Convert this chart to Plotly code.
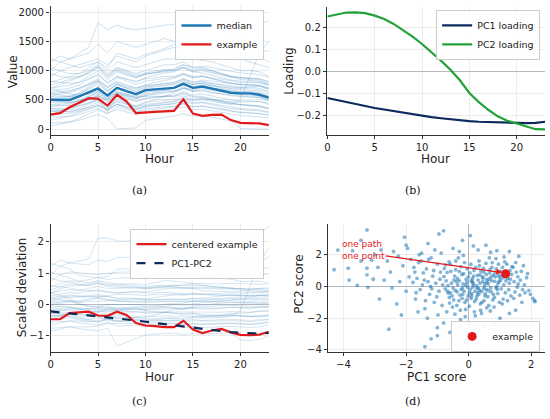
import plotly.graph_objects as go

hours = list(range(24))

# panel (a): hourly values
median_value = [502, 500, 498, 560, 630, 695, 576, 705, 649, 598, 666, 680,
                695, 705, 773, 705, 729, 695, 661, 621, 610, 610, 587, 536]
example_value = [247, 271, 373, 446, 525, 520, 401, 587, 475, 271, 288, 295,
                 303, 310, 508, 265, 225, 243, 248, 153, 107, 96, 96, 68]

background_paths = [
    [1000, 1150, 1200, 1300, 1400, 1820, 1700, 1780, 1720, 1700, 1720, 1750, 1780, 1790, 1950, 1850, 1800, 1750, 1700, 1650, 1700, 1750, 1800, 1850],
    [1150, 1250, 1200, 1250, 1300, 1450, 1300, 1500, 1450, 1400, 1450, 1500, 1550, 1500, 1600, 1550, 1500, 1450, 1400, 1350, 1300, 1250, 1300, 1350],
    [800, 850, 900, 950, 1050, 1150, 1000, 1150, 1100, 1050, 1100, 1150, 1200, 1200, 1250, 1200, 1180, 1150, 1100, 1050, 1000, 1000, 980, 900],
    [700, 720, 750, 800, 900, 1000, 850, 980, 920, 880, 950, 980, 1000, 1020, 1100, 1020, 1050, 1000, 950, 900, 880, 870, 860, 800],
    [600, 620, 640, 700, 780, 860, 720, 880, 820, 760, 820, 850, 870, 880, 950, 880, 900, 860, 820, 780, 760, 750, 740, 680],
    [550, 560, 560, 600, 680, 760, 640, 770, 700, 650, 720, 740, 760, 770, 840, 770, 790, 750, 720, 690, 670, 660, 650, 590],
    [450, 460, 450, 500, 560, 640, 520, 650, 590, 540, 600, 620, 640, 650, 720, 650, 670, 630, 600, 570, 550, 550, 540, 480],
    [400, 410, 400, 440, 500, 570, 460, 580, 520, 470, 530, 550, 570, 580, 640, 580, 600, 560, 530, 500, 480, 480, 470, 420],
    [350, 360, 360, 390, 440, 500, 400, 510, 450, 400, 460, 480, 500, 510, 570, 510, 530, 490, 460, 430, 410, 400, 390, 350],
    [300, 310, 300, 330, 370, 420, 340, 430, 380, 340, 390, 400, 420, 430, 480, 430, 450, 410, 380, 350, 330, 320, 310, 280],
    [200, 210, 220, 250, 300, 350, 270, 340, 290, 250, 300, 310, 330, 340, 380, 330, 340, 310, 280, 250, 230, 220, 210, 190],
    [100, 110, 120, 150, 200, 250, 180, 0, 10, 20, 150, 180, 200, 220, 260, 220, 230, 200, 170, 140, 10, 0, 0, 0],
    [250, 300, 350, 400, 450, 500, 300, 550, 450, 350, 400, 420, 450, 470, 520, 480, 500, 470, 440, 420, 500, 900, 1300, 1500],
    [900, 1000, 1050, 1100, 1150, 1200, 1100, 1250, 1200, 1150, 1250, 1300, 1350, 1400, 1450, 1400, 1380, 1350, 1300, 1250, 1200, 1150, 1100, 1050],
    [650, 680, 700, 750, 850, 950, 780, 900, 850, 800, 880, 920, 960, 980, 1050, 980, 1000, 960, 920, 880, 850, 840, 820, 760],
    [500, 520, 540, 600, 700, 800, 650, 780, 720, 680, 740, 760, 780, 790, 860, 800, 820, 780, 750, 720, 700, 690, 680, 620],
    [480, 470, 460, 480, 520, 560, 500, 600, 560, 520, 580, 620, 660, 700, 760, 720, 760, 740, 720, 700, 700, 720, 740, 700],
    [700, 650, 600, 580, 600, 650, 550, 620, 580, 540, 560, 560, 570, 560, 600, 550, 540, 500, 470, 440, 420, 400, 380, 340],
    [380, 400, 420, 480, 560, 620, 520, 640, 600, 560, 620, 660, 700, 720, 800, 760, 800, 780, 760, 740, 720, 720, 700, 640],
    [150, 180, 220, 280, 340, 400, 320, 420, 360, 300, 350, 370, 380, 390, 440, 380, 390, 360, 330, 300, 280, 270, 260, 230],
    [820, 800, 780, 800, 860, 920, 800, 900, 860, 820, 860, 880, 900, 900, 950, 900, 910, 880, 850, 820, 800, 800, 790, 740],
    [300, 320, 360, 420, 500, 580, 480, 600, 540, 480, 520, 540, 560, 560, 620, 560, 560, 520, 480, 450, 420, 410, 400, 360],
    [1050, 1000, 950, 950, 1000, 1100, 950, 1050, 1000, 950, 1000, 1050, 1100, 1100, 1150, 1050, 1050, 1000, 950, 900, 880, 860, 840, 780],
    [560, 600, 620, 680, 760, 840, 700, 820, 760, 700, 740, 760, 780, 800, 860, 800, 840, 820, 800, 780, 760, 760, 740, 680],
    [420, 430, 440, 480, 540, 600, 500, 620, 570, 520, 570, 590, 620, 640, 700, 660, 690, 660, 640, 610, 590, 580, 560, 500],
    [620, 640, 660, 700, 760, 820, 720, 800, 740, 700, 760, 800, 840, 870, 930, 880, 900, 860, 820, 790, 770, 760, 750, 700],
    [250, 260, 270, 300, 350, 400, 330, 420, 370, 330, 380, 400, 420, 440, 500, 450, 460, 430, 400, 370, 350, 340, 330, 290],
    [750, 800, 850, 900, 950, 1050, 900, 1050, 980, 920, 960, 1000, 1020, 1000, 1050, 980, 960, 920, 880, 840, 820, 820, 800, 760],
    [50, 80, 120, 180, 250, 330, 260, 380, 330, 280, 320, 340, 360, 380, 430, 380, 400, 370, 340, 310, 290, 280, 270, 240],
    [1200, 1150, 1100, 1050, 1100, 1150, 1050, 1300, 1250, 1200, 1280, 1320, 1380, 1450, 1500, 1480, 1450, 1400, 1350, 1300, 1280, 1250, 1230, 1150],
    [350, 340, 330, 350, 420, 500, 380, 480, 430, 380, 450, 500, 560, 620, 700, 680, 720, 700, 680, 660, 640, 640, 620, 560],
    [600, 580, 560, 560, 600, 660, 580, 700, 650, 600, 640, 650, 660, 650, 690, 640, 650, 620, 600, 580, 560, 550, 540, 500],
    [950, 900, 880, 900, 980, 1080, 920, 1020, 960, 900, 940, 960, 980, 1000, 1060, 1000, 1020, 980, 940, 900, 880, 870, 860, 820],
    [520, 540, 560, 620, 720, 820, 660, 760, 700, 640, 700, 720, 740, 760, 820, 760, 780, 740, 700, 660, 640, 630, 610, 560],
    [320, 300, 290, 320, 380, 460, 360, 470, 420, 380, 420, 440, 460, 480, 540, 500, 520, 500, 480, 470, 460, 470, 480, 440],
    [700, 760, 820, 880, 960, 1060, 880, 1000, 940, 880, 930, 960, 1000, 1030, 1100, 1060, 1080, 1050, 1010, 980, 960, 950, 930, 880],
]

# panel (b): loadings
pc1_loading = [-0.121, -0.131, -0.140, -0.149, -0.158, -0.167, -0.174, -0.182, -0.190, -0.196, -0.203, -0.209,
               -0.214, -0.219, -0.223, -0.227, -0.230, -0.232, -0.233, -0.234, -0.235, -0.236, -0.235, -0.230]
pc2_loading = [0.252, 0.262, 0.270, 0.271, 0.267, 0.256, 0.240, 0.218, 0.190, 0.160, 0.126, 0.090,
               0.050, 0.008, -0.040, -0.098, -0.140, -0.175, -0.205, -0.225, -0.238, -0.254, -0.264, -0.265]

# panel (c): scaled deviations
dev_scale = 530
centered_example = [-0.47, -0.47, -0.27, -0.24, -0.23, -0.35, -0.36, -0.23, -0.33, -0.59, -0.67, -0.69,
                    -0.72, -0.72, -0.52, -0.80, -0.91, -0.83, -0.78, -0.89, -0.97, -0.98, -0.96, -0.87]
pc12_path = [-0.22, -0.25, -0.28, -0.31, -0.34, -0.37, -0.40, -0.43, -0.47, -0.51, -0.55, -0.59,
             -0.63, -0.67, -0.71, -0.75, -0.78, -0.82, -0.85, -0.88, -0.90, -0.92, -0.93, -0.91]

# panel (d): scores (PC1, PC2)
score_points = [
    (-0.72, 0.35), (-0.65, -0.42), (-0.78, 1.12), (-0.61, -1.05), (-0.69, 0.88), (-0.75, -0.15), (-0.63, 1.55),
    (-0.7, -1.6), (-0.66, 0.05), (-0.79, 0.62), (-0.62, -0.7), (-0.74, 1.35), (-0.68, -0.3),
    (-0.55, 0.2), (-0.48, -0.85), (-0.42, 1.05), (-0.58, -0.4), (-0.45, 0.65), (-0.52, -1.3), (-0.41, 1.6),
    (-0.57, 0.95), (-0.5, -0.1), (-0.44, -1.75), (-0.59, 1.4), (-0.47, 0.4), (-0.53, -0.6), (-0.43, -0.25),
    (-0.35, 0.1), (-0.28, -0.55), (-0.22, 0.75), (-0.38, -1.2), (-0.25, 1.25), (-0.31, -0.9), (-0.36, 0.5),
    (-0.24, -0.2), (-0.33, 1.8), (-0.27, -1.5), (-0.39, 0.3), (-0.21, -0.75), (-0.3, 0.95), (-0.26, -2.1), (-0.37, -0.35),
    (-0.15, -0.3), (-0.08, 0.45), (-0.12, -1.0), (-0.05, 1.1), (-0.18, 0.15), (-0.02, -0.6), (-0.1, -1.45),
    (-0.16, 0.8), (-0.04, -0.05), (-0.13, 1.5), (-0.07, -0.85), (-0.19, -0.5), (-0.01, 0.6), (-0.11, -1.9),
    (-0.06, 0.25), (-0.17, 1.95),
    (0.05, -0.2), (0.12, 0.5), (0.08, -0.75), (0.17, 1.0), (0.02, -1.25), (0.15, 0.1), (0.1, -0.45), (0.18, -1.6),
    (0.04, 0.85), (0.13, -0.05), (0.07, 1.4), (0.19, -0.95), (0.11, 0.3), (0.03, -2.3), (0.16, 0.65), (0.09, -0.6),
    (0.25, 0.05), (0.32, -0.5), (0.28, 0.7), (0.37, -1.1), (0.22, 1.2), (0.35, -0.25), (0.3, 0.4), (0.38, -1.5),
    (0.24, -0.8), (0.33, 1.6), (0.27, -0.1), (0.39, 0.95), (0.21, -1.85), (0.36, 0.2), (0.29, -0.4), (0.34, 1.3),
    (0.45, 0.3), (0.52, -0.6), (0.48, 0.9), (0.57, -0.2), (0.42, -1.0), (0.55, 1.45), (0.5, 0.0), (0.58, -1.35),
    (0.44, 0.6), (0.53, -0.45), (0.47, 1.15), (0.59, 0.25), (0.41, -1.7), (0.56, 0.75), (0.49, -0.9),
    (0.65, 0.45), (0.72, -0.35), (0.68, 1.05), (0.77, -0.85), (0.62, 0.15), (0.75, 1.5), (0.7, -0.1), (0.78, 0.7),
    (0.64, -1.2), (0.73, 0.35), (0.66, 1.8), (0.79, -0.5), (0.61, -0.65), (0.74, 1.2), (0.69, -1.55),
    (0.85, 0.6), (0.92, -0.2), (0.88, 1.1), (0.97, 0.3), (0.82, -0.7), (0.95, 1.4), (0.9, 0.0), (0.98, -1.0),
    (0.84, 0.85), (0.93, -0.45), (0.87, 1.75), (0.99, 0.55), (0.81, -1.3), (0.94, 0.2),
    (1.05, 0.7), (1.12, 0.1), (1.08, 1.2), (1.17, -0.4), (1.02, 0.4), (1.15, 1.55), (1.1, -0.8), (1.18, 0.9),
    (1.04, -0.15), (1.13, 1.85), (1.07, -1.1), (1.19, 0.35),
    (1.25, 0.5), (1.32, 1.0), (1.28, -0.2), (1.37, 0.75), (1.22, 1.4), (1.35, -0.6), (1.3, 0.2), (1.38, 1.25),
    (1.24, -0.9), (1.33, 0.45),
    (1.45, 0.3), (1.52, 0.9), (1.48, -0.35), (1.57, 0.6), (1.42, 1.2), (1.55, -0.05), (1.5, 1.5), (1.58, 0.15), (1.44, -0.75),
    (1.65, 0.4), (1.72, -0.2), (1.68, 0.95), (1.78, 0.1), (1.63, -0.55), (1.85, 0.55), (1.8, -0.4), (1.92, -0.25),
    (1.97, -0.5), (2.05, -0.75), (2.1, -0.9), (2.12, -0.95), (1.75, 1.3), (1.88, 0.8), (1.7, -1.0),
    (-0.9, 0.9), (-0.95, -0.3), (-1.0, 1.4), (-1.05, 0.2), (-1.1, -1.0), (-1.15, 0.65), (-1.2, 1.8), (-1.25, -0.5),
    (-1.3, 0.3), (-1.35, 1.1), (-1.4, -1.4), (-1.45, 0.85), (-1.5, 2.1), (-1.55, -0.2), (-1.6, 1.5), (-1.65, 0.5),
    (-1.7, -0.8), (-1.75, 1.2), (-0.85, -1.2), (-0.92, 0.45), (-1.02, -0.65), (-1.12, 1.0), (-1.22, 0.0), (-1.32, -2.0),
    (-1.42, 0.4), (-1.52, 1.6), (-1.62, -1.6), (-1.72, 0.9), (-0.88, 2.1), (-0.98, -1.8), (-1.08, 2.3), (-1.18, -0.15),
    (-1.28, 1.7), (-1.38, -0.9), (-1.48, 0.1), (-1.58, 2.0), (-1.68, -0.4), (-1.78, 0.25), (-0.83, 0.1), (-1.0, -2.6),
    (-1.85, 1.7), (-1.9, 0.6), (-1.95, 2.4), (-2.0, -0.3), (-2.05, 3.1), (-2.1, 1.3), (-2.2, 0.3), (-2.25, 1.9),
    (-2.3, -1.1), (-2.4, 2.2), (-2.5, 0.9), (-2.55, -2.7), (-2.6, 1.6), (-2.7, 0.4), (-2.8, 2.3), (-2.85, -0.8),
    (-2.9, 1.2), (-3.0, 2.0), (-3.05, 0.45), (-3.25, 3.56), (-3.44, 2.9), (-4.18, 2.29), (-3.71, 2.25), (-3.85, 1.15),
    (-3.82, 0.4), (-3.56, 0.06), (-3.44, 1.6), (-3.25, 1.15), (-3.25, 0.73), (-3.22, -0.06), (-2.0, 2.6), (-4.3, 1.05),
    (-3.1, 1.65), (-2.15, -1.8), (-2.45, -0.1),
    (-0.8, 3.5), (-0.95, 3.3), (-0.2, 2.9), (0.15, 2.55), (0.3, 2.3), (0.55, 2.6), (0.9, 2.25), (-0.5, 2.4),
    (-0.3, 2.2), (0.7, 2.15), (1.3, 2.2), (1.6, 1.9), (-1.3, 2.7), (0.05, 3.2),
    (-0.1, -3.5), (-0.6, -2.9), (0.2, -2.7), (-1.0, -3.1), (0.5, -2.5), (0.8, -2.3), (-0.3, -2.6), (1.0, -2.0),
    (1.3, -1.7), (-1.4, -3.8), (0.0, -3.15), (-0.8, -2.3), (1.5, -1.5), (-1.2, -3.3),
    (0.14, 0.22), (0.31, -0.12), (0.46, 0.52), (0.63, -0.28), (0.26, -0.62), (0.52, 0.18), (-0.09, 0.08), (0.08, 0.35),
    (0.41, -0.33), (0.71, 0.58), (0.58, 0.42), (0.2, -0.3), (-0.2, -0.1), (0.36, 0.72), (0.83, 0.32), (1.01, 0.95),
    (0.95, 0.7), (1.1, 0.55), (0.67, 0.85), (-0.3, 0.35), (0.02, -0.4), (0.48, -0.15), (0.87, -0.1), (1.21, 0.72),
]
example_score = [1.18, 0.80]

RED = "#e31a1c"
BLUE = "#1f77b4"
NAVY = "#0d2a5c"
GREEN = "#21a337"
FONT = "DejaVu Sans"

fig = go.Figure()

# (a)
for path in background_paths:
    fig.add_trace(go.Scatter(x=hours, y=path, mode="lines", xaxis="x", yaxis="y",
                             line=dict(color="rgba(31,119,180,0.28)", width=0.8),
                             showlegend=False, hoverinfo="skip"))
fig.add_trace(go.Scatter(x=hours, y=median_value, mode="lines", name="median", xaxis="x", yaxis="y",
                         line=dict(color=BLUE, width=2.4), legend="legend"))
fig.add_trace(go.Scatter(x=hours, y=example_value, mode="lines", name="example", xaxis="x", yaxis="y",
                         line=dict(color=RED, width=2.2), legend="legend"))

# (b)
fig.add_trace(go.Scatter(x=hours, y=pc1_loading, mode="lines", name="PC1 loading", xaxis="x2", yaxis="y2",
                         line=dict(color=NAVY, width=2.2), legend="legend2"))
fig.add_trace(go.Scatter(x=hours, y=pc2_loading, mode="lines", name="PC2 loading", xaxis="x2", yaxis="y2",
                         line=dict(color=GREEN, width=2.2), legend="legend2"))

# (c)
for path in background_paths:
    dev = [(v - m) / dev_scale for v, m in zip(path, median_value)]
    fig.add_trace(go.Scatter(x=hours, y=dev, mode="lines", xaxis="x3", yaxis="y3",
                             line=dict(color="rgba(31,119,180,0.24)", width=0.8),
                             showlegend=False, hoverinfo="skip"))
fig.add_trace(go.Scatter(x=hours, y=centered_example, mode="lines", name="centered example",
                         xaxis="x3", yaxis="y3", line=dict(color=RED, width=2.2), legend="legend3"))
fig.add_trace(go.Scatter(x=hours, y=pc12_path, mode="lines", name="PC1-PC2", xaxis="x3", yaxis="y3",
                         line=dict(color=NAVY, width=2.2, dash="dash"), legend="legend3"))

# (d)
fig.add_trace(go.Scatter(x=[p[0] for p in score_points], y=[p[1] for p in score_points], mode="markers",
                         xaxis="x4", yaxis="y4", showlegend=False,
                         marker=dict(color="rgba(31,119,180,0.55)", size=3.8, line=dict(width=0))))
fig.add_trace(go.Scatter(x=[example_score[0]], y=[example_score[1]], mode="markers", name="example",
                         xaxis="x4", yaxis="y4", marker=dict(color=RED, size=9), legend="legend4"))

axis_style = dict(showline=True, linecolor="#333333", linewidth=1.2, ticks="outside", ticklen=3.5,
                  tickcolor="#333333", tickfont=dict(family=FONT, size=10, color="#222222"),
                  showgrid=True, gridcolor="#ececec", gridwidth=0.8, zeroline=False, mirror=False)
zero_style = dict(axis_style, zeroline=True, zerolinecolor="#b4b8bf", zerolinewidth=1.3)

legend_style = dict(bgcolor="rgba(255,255,255,0.9)", bordercolor="#cccccc", borderwidth=1,
                    font=dict(family=FONT, size=9.5, color="#222222"), tracegroupgap=0)

fig.update_layout(
    width=550, height=419, margin=dict(l=0, r=0, t=0, b=0),
    paper_bgcolor="white", plot_bgcolor="white",
    font=dict(family=FONT, color="#222222"),
    xaxis=dict(domain=[0.087, 0.486], anchor="y", range=[0, 23], tickvals=[0, 5, 10, 15, 20], **axis_style),
    yaxis=dict(domain=[0.675, 0.986], anchor="x", range=[-100, 2110], tickvals=[0, 500, 1000, 1500, 2000], **axis_style),
    xaxis2=dict(domain=[0.593, 0.991], anchor="y2", range=[0, 23], tickvals=[0, 5, 10, 15, 20], **axis_style),
    yaxis2=dict(domain=[0.675, 0.984], anchor="x2", range=[-0.29, 0.297], tickvals=[-0.2, -0.1, 0, 0.1, 0.2],
                tickformat=".1f", **zero_style),
    xaxis3=dict(domain=[0.087, 0.486], anchor="y3", range=[0, 23], tickvals=[0, 5, 10, 15, 20], **axis_style),
    yaxis3=dict(domain=[0.153, 0.461], anchor="x3", range=[-1.5, 2.58], tickvals=[-1, 0, 1, 2], **zero_style),
    xaxis4=dict(domain=[0.595, 0.991], anchor="y4", range=[-4.48, 2.44], tickvals=[-4, -2, 0, 2], **zero_style),
    yaxis4=dict(domain=[0.153, 0.461], anchor="x4", range=[-4.1, 3.95], tickvals=[-4, -2, 0, 2], **zero_style),
    legend=dict(x=0.478, y=0.976, xanchor="right", yanchor="top", **legend_style),
    legend2=dict(x=0.982, y=0.976, xanchor="right", yanchor="top", **legend_style),
    legend3=dict(x=0.478, y=0.449, xanchor="right", yanchor="top", **legend_style),
    legend4=dict(x=0.982, y=0.152, xanchor="right", yanchor="bottom", **legend_style),
)

titles = [
    ("Value", 10, 72, -90), ("Loading", 288, 72, -90),
    ("Scaled deviation", 19, 290, -90), ("PC2 score", 298, 287, -90),
    ("Hour", 157, 161, 0), ("Hour", 435, 161, 0),
    ("Hour", 157, 381, 0), ("PC1 score", 436, 381, 0),
]
for text, px, py, angle in titles:
    fig.add_annotation(text=text, x=px / 550, y=1 - py / 419, xref="paper", yref="paper", showarrow=False,
                       xanchor="center", yanchor="middle", textangle=angle,
                       font=dict(family=FONT, size=12, color="#222222"))

for text, px, py in [("(a)", 137, 192), ("(b)", 412, 192), ("(c)", 137, 405), ("(d)", 412, 405)]:
    fig.add_annotation(text=text, x=px / 550, y=1 - py / 419, xref="paper", yref="paper", showarrow=False,
                       xanchor="center", yanchor="middle",
                       font=dict(family="DejaVu Serif", size=11, color="#111111"))

fig.add_annotation(text="one path<br>one point", x=-4.1, y=2.27, xref="x4", yref="y4", showarrow=False,
                   xanchor="left", yanchor="middle", align="left",
                   font=dict(family=FONT, size=9, color=RED))
fig.add_annotation(text="", x=1.07, y=0.875, ax=-2.7, ay=1.94, xref="x4", yref="y4", axref="x4", ayref="y4",
                   showarrow=True, arrowhead=2, arrowsize=0.9, arrowwidth=1.3, arrowcolor=RED, standoff=0)

fig.write_html("out.html", config={"displayModeBar": False},
               post_script="document.body.style.margin='0';")
